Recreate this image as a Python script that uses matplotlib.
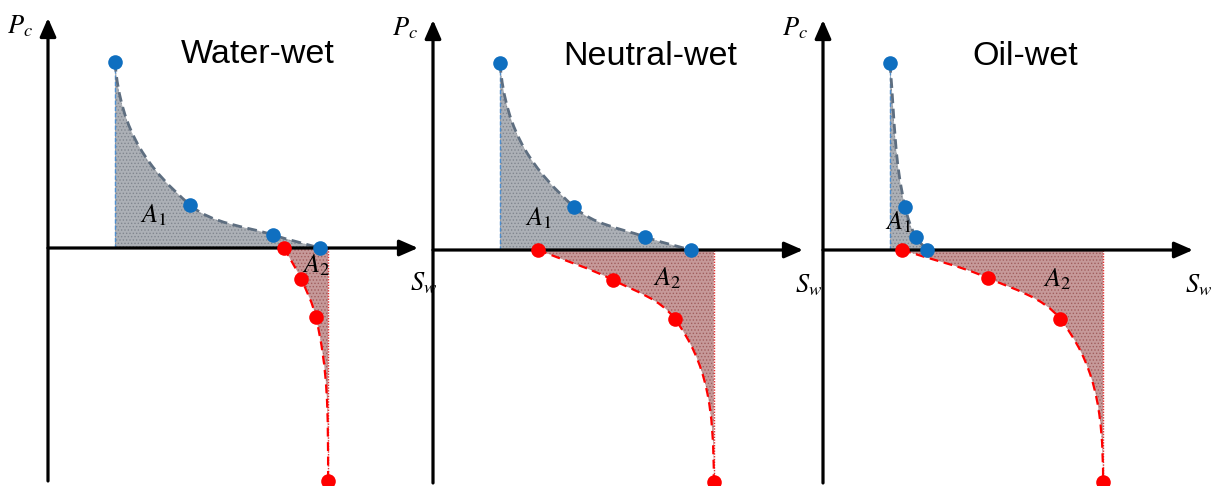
import matplotlib
matplotlib.use("Agg")
import matplotlib.pyplot as plt
from matplotlib.path import Path
from matplotlib.patches import PathPatch
import numpy as np

plt.rcParams['mathtext.fontset'] = 'stix'
plt.rcParams['hatch.linewidth'] = 0.6

# Panel names
titles = ['Water-wet', 'Neutral-wet', 'Oil-wet']

# Drainage points (blue), Sw and Pc in relative units
blue_sw = [
    [0.181, 0.384, 0.608, 0.735],
    [0.181, 0.381, 0.573, 0.697],
    [0.181, 0.222, 0.251, 0.281],
]
blue_pc = [
    [0.809, 0.187, 0.057, 0.0],
    [0.813, 0.187, 0.057, 0.0],
    [0.813, 0.187, 0.057, 0.0],
]

# Imbibition points (red)
red_sw = [
    [0.638, 0.684, 0.724, 0.757],
    [0.284, 0.486, 0.654, 0.759],
    [0.214, 0.446, 0.641, 0.757],
]
red_pc = [
    [0.0, -0.135, -0.300, -1.013],
    [0.0, -0.130, -0.300, -1.009],
    [0.0, -0.122, -0.300, -1.009],
]

# Area label positions
a1_pos = [(0.284, 0.143), (0.284, 0.139), (0.203, 0.122)]
a2_pos = [(0.724, -0.074), (0.632, -0.122), (0.632, -0.130)]
title_x = [0.568, 0.586, 0.546]

# layout (pixels)
W, H = 1217, 486
origin_x = [48, 433, 823]
origin_y = [248, 250, 250]
sx, sy = 370.0, 230.0


def bezier_path(xs, ys, start_dir=None, end_dir=None, end_handle=0.33):
    """Smooth cubic Bezier through the points, handles computed in pixel space."""
    p = np.column_stack([np.asarray(xs) * sx, np.asarray(ys) * sy]).astype(float)
    n = len(p)
    units = []
    for i in range(n):
        if i == 0:
            u = p[1] - p[0] if start_dir is None else np.array(start_dir, float)
        elif i == n - 1:
            u = p[-1] - p[-2] if end_dir is None else np.array(end_dir, float)
        else:
            a = p[i] - p[i - 1]
            b = p[i + 1] - p[i]
            u = a / np.hypot(*a) + b / np.hypot(*b)
        units.append(u / np.hypot(*u))
    verts = [tuple(p[0])]
    codes = [Path.MOVETO]
    for i in range(n - 1):
        d = np.hypot(*(p[i + 1] - p[i]))
        h0 = end_handle if (i == 0 and start_dir is not None) else 0.33
        h1 = end_handle if (i == n - 2 and end_dir is not None) else 0.33
        c1 = p[i] + units[i] * d * h0
        c2 = p[i + 1] - units[i + 1] * d * h1
        verts += [tuple(c1), tuple(c2), tuple(p[i + 1])]
        codes += [Path.CURVE4] * 3
    verts = [(vx / sx, vy / sy) for vx, vy in verts]
    return verts, codes


fig = plt.figure(figsize=(W / 100, H / 100), dpi=100)

for k in range(3):
    ox, oy = origin_x[k], origin_y[k]
    left_px, width_px = ox - 45, 432
    ax = fig.add_axes([left_px / W, 0, width_px / W, 1])
    ax.set_xlim(-45 / sx, (width_px - 45) / sx)
    ax.set_ylim((oy - H) / sy, oy / sy)
    ax.axis('off')
    ax.patch.set_alpha(0)

    bx, by = blue_sw[k], blue_pc[k]
    rx, ry = red_sw[k], red_pc[k]

    # gray area A1
    bv, bc = bezier_path(bx, by, start_dir=(0.08, -1), end_handle=0.45)
    verts = [(bx[0], 0.0)] + bv + [(bx[0], 0.0)]
    codes = [Path.MOVETO, Path.LINETO] + bc[1:] + [Path.CLOSEPOLY]
    ax.add_patch(PathPatch(Path(verts, codes), facecolor='#acb0b6',
                           edgecolor='#80868f', hatch='.....', lw=0, zorder=1))

    # red area A2
    rv, rc = bezier_path(rx, ry, end_dir=(0, -1), end_handle=0.45)
    verts = rv + [(rx[-1], 0.0), (rx[0], 0.0)]
    codes = rc + [Path.LINETO, Path.CLOSEPOLY]
    ax.add_patch(PathPatch(Path(verts, codes), facecolor='#c69999',
                           edgecolor='#a05e5e', hatch='.....', lw=0, zorder=1))

    # vertical edges
    ax.plot([bx[0], bx[0]], [0, by[0]], color='#4f8fcf', lw=1.0,
            ls=(0, (3, 1.5)), zorder=2)
    ax.plot([rx[-1], rx[-1]], [0, ry[-1]], color='#e03030', lw=1.0,
            ls=(0, (1, 1)), zorder=2)

    # dashed curves
    ax.add_patch(PathPatch(Path(bv, bc), facecolor='none', edgecolor='#5e6e80',
                           lw=2.0, ls=(0, (3.5, 2)), zorder=3))
    ax.add_patch(PathPatch(Path(rv, rc), facecolor='none', edgecolor='#ff0000',
                           lw=1.6, ls=(0, (4, 2.5)), zorder=3))

    # axes arrows
    arrow = dict(arrowstyle='-|>,head_length=0.8,head_width=0.35',
                 color='black', lw=2.3, mutation_scale=14, shrinkA=0, shrinkB=0)
    ax.annotate('', xy=(0, 1.0), xytext=(0, -1.013), arrowprops=arrow, zorder=4)
    ax.annotate('', xy=(1.0, 0), xytext=(0, 0), arrowprops=arrow, zorder=4)

    # points
    ax.plot(bx, by, 'o', color='#0f6fc0', ms=10.5, mec='none', zorder=5, clip_on=False)
    ax.plot(rx, ry, 'o', color='#ff0000', ms=10.5, mec='none', zorder=5, clip_on=False)

    # text
    ax.text(-28 / sx, 0.965, r'$P_c$', fontsize=19, ha='center', va='center')
    ax.text(1.015, -0.155, r'$S_w$', fontsize=19, ha='center', va='center')
    ax.text(a1_pos[k][0], a1_pos[k][1], r'$A_1$', fontsize=19,
            ha='center', va='center', zorder=6)
    ax.text(a2_pos[k][0], a2_pos[k][1], r'$A_2$', fontsize=19,
            ha='center', va='center', zorder=6)
    ax.text(title_x[k], 0.84, titles[k], fontsize=24.5, family='Liberation Sans',
            ha='center', va='center')

fig.savefig('out.png', dpi=100)
